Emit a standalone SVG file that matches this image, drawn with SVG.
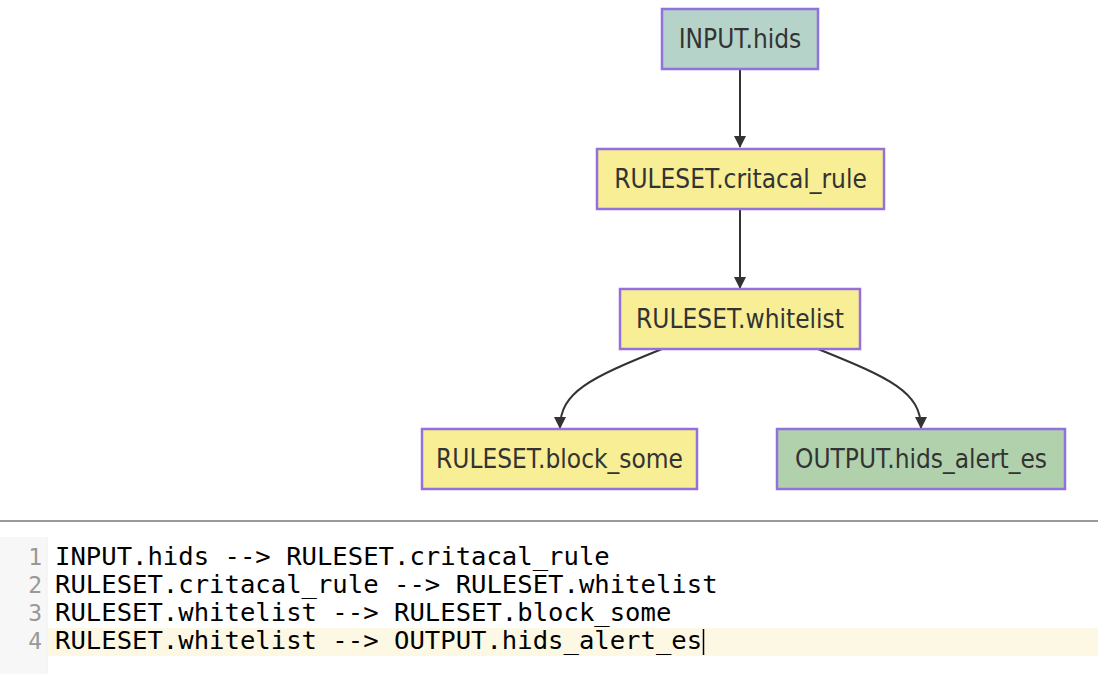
<svg xmlns="http://www.w3.org/2000/svg" width="1098" height="674" viewBox="0 0 1098 674">
<style>
.node rect{stroke:#9370db;stroke-width:2.5}
.node text{font-family:"DejaVu Sans Condensed","DejaVu Sans",sans-serif;font-size:26px;fill:#333;text-anchor:middle;dominant-baseline:central}
.in rect{fill:#b5d3c8}
.rs rect{fill:#f7ee95}
.out rect{fill:#b1d1ad}
.edge{fill:none;stroke:#333;stroke-width:2}
.code{font-family:"DejaVu Sans Mono",monospace;font-size:25.6px;fill:#000}
.ln{font-family:"DejaVu Sans Mono",monospace;font-size:23px;fill:#999;text-anchor:end}
</style>
<defs>
<marker id="arr" markerWidth="12" markerHeight="12" refX="11" refY="6" orient="auto" markerUnits="userSpaceOnUse">
<path d="M0,0 L12,6 L0,12 z" fill="#333"/>
</marker>
</defs>
<rect width="1098" height="674" fill="#fff"/>
<g id="connectors">
<path class="edge" d="M740,69 L740,147" marker-end="url(#arr)"/>
<path class="edge" d="M740,209 L740,288" marker-end="url(#arr)"/>
<path class="edge" d="M662,349 C590,378 560,392 560,428" marker-end="url(#arr)"/>
<path class="edge" d="M818,349 C890,378 921,392 921,428" marker-end="url(#arr)"/>
</g>
<g id="n1" class="node in"><rect x="662" y="9" width="156" height="60"/><text x="740" y="39">INPUT.hids</text></g>
<g id="n2" class="node rs"><rect x="597" y="149" width="287" height="60"/><text x="740.5" y="179">RULESET.critacal_rule</text></g>
<g id="n3" class="node rs"><rect x="620" y="289" width="240" height="60"/><text x="740" y="319">RULESET.whitelist</text></g>
<g id="n4" class="node rs"><rect x="422" y="429" width="275" height="60"/><text x="559.5" y="459">RULESET.block_some</text></g>
<g id="n5" class="node out"><rect x="777" y="429" width="288" height="60"/><text x="921" y="459">OUTPUT.hids_alert_es</text></g>
<g id="editor">
<rect x="0" y="522" width="1098" height="152" fill="#fff"/>
<line x1="0" y1="521" x2="1098" y2="521" stroke="#999" stroke-width="2"/>
<rect x="0" y="537" width="47" height="137" fill="#f7f7f7"/>
<line x1="47" y1="537" x2="47" y2="674" stroke="#eee" stroke-width="1"/>
<rect x="48" y="628" width="1050" height="28" fill="#fdf8e4"/>
<text class="ln" x="42" y="565">1</text>
<text class="ln" x="42" y="593">2</text>
<text class="ln" x="42" y="621">3</text>
<text class="ln" x="42" y="649">4</text>
<text class="code" x="55" y="565">INPUT.hids --&gt; RULESET.critacal_rule</text>
<text class="code" x="55" y="593">RULESET.critacal_rule --&gt; RULESET.whitelist</text>
<text class="code" x="55" y="621">RULESET.whitelist --&gt; RULESET.block_some</text>
<text class="code" x="55" y="649">RULESET.whitelist --&gt; OUTPUT.hids_alert_es</text>
<line x1="703.5" y1="629" x2="703.5" y2="655" stroke="#000" stroke-width="1.5"/>
</g>
</svg>
